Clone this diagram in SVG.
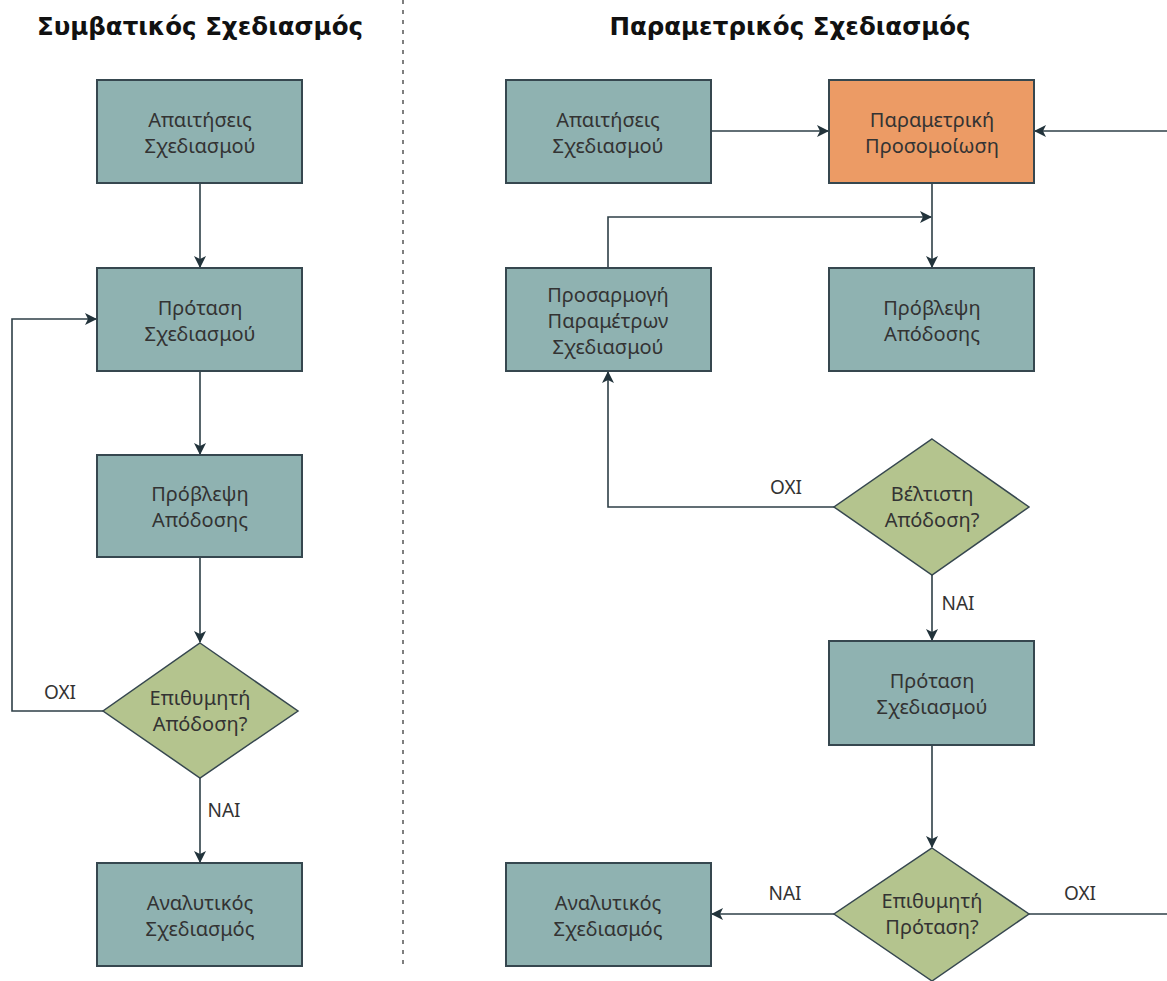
<svg xmlns="http://www.w3.org/2000/svg" width="1167" height="981" viewBox="0 0 1167 981">
  <defs>
    <marker id="arr" viewBox="0 0 12 12" refX="11" refY="6" markerWidth="12" markerHeight="12" markerUnits="userSpaceOnUse" orient="auto">
      <path d="M0,0 L12,6 L0,12 L3,6 Z" fill="#22333b"/>
    </marker>
  </defs>
  <style>
    .title { font-family: "DejaVu Sans", Verdana, sans-serif; font-weight: bold; font-size: 24.5px; fill: #111; text-anchor: middle; }
    .box { fill: #8fb2b1; stroke: #36474f; stroke-width: 2; }
    .sim { fill: #ec9b65; stroke: #36474f; stroke-width: 2; }
    .dec { fill: #b4c48e; stroke: #36474f; stroke-width: 1.5; }
    .lbl { font-family: "Noto Sans", "Open Sans", sans-serif; font-size: 20px; fill: #333; text-anchor: middle; }
    .edge { font-family: "Noto Sans", "Open Sans", sans-serif; font-size: 19px; fill: #333; text-anchor: middle; }
    .conn path { fill: none; stroke: #2e3f47; stroke-width: 1.6; }
    .sep { stroke: #555; stroke-width: 1.5; stroke-dasharray: 4 6; }
  </style>
  <rect width="1167" height="981" fill="#fff"/>

  <!-- column titles and divider -->
  <text class="title" x="200" y="35">Συμβατικός Σχεδιασμός</text>
  <text class="title" x="790" y="35">Παραμετρικός Σχεδιασμός</text>
  <line class="sep" x1="403" y1="0" x2="403" y2="968"/>

  <!-- connectors -->
  <g id="connectors" class="conn">
    <path d="M200,183 L200,267" marker-end="url(#arr)"/>
    <path d="M200,371 L200,454" marker-end="url(#arr)"/>
    <path d="M200,557 L200,642" marker-end="url(#arr)"/>
    <path d="M103,711 L12,711 L12,319 L96,319" marker-end="url(#arr)"/>
    <path d="M200,778 L200,862" marker-end="url(#arr)"/>
    <path d="M711,131 L828,131" marker-end="url(#arr)"/>
    <path d="M1167,131 L1035,131" marker-end="url(#arr)"/>
    <path d="M932,183 L932,267" marker-end="url(#arr)"/>
    <path d="M608,268 L608,217 L931,217" marker-end="url(#arr)"/>
    <path d="M834,507 L608,507 L608,372" marker-end="url(#arr)"/>
    <path d="M932,575 L932,640" marker-end="url(#arr)"/>
    <path d="M932,745 L932,847" marker-end="url(#arr)"/>
    <path d="M834,914 L712,914" marker-end="url(#arr)"/>
    <path d="M1029,914 L1167,914"/>
  </g>

  <!-- edge labels -->
  <text class="edge" x="60" y="699">ΟΧΙ</text>
  <text class="edge" x="224" y="817">ΝΑΙ</text>
  <text class="edge" x="786" y="494">ΟΧΙ</text>
  <text class="edge" x="958" y="610">ΝΑΙ</text>
  <text class="edge" x="785" y="900">ΝΑΙ</text>
  <text class="edge" x="1080" y="900">ΟΧΙ</text>

  <!-- conventional design flow -->
  <g id="c-req">
    <rect class="box" x="97" y="80" width="205" height="103"/>
    <text class="lbl" x="200" y="127">Απαιτήσεις</text>
    <text class="lbl" x="200" y="153">Σχεδιασμού</text>
  </g>
  <g id="c-prop">
    <rect class="box" x="97" y="268" width="205" height="103"/>
    <text class="lbl" x="200" y="315">Πρόταση</text>
    <text class="lbl" x="200" y="341">Σχεδιασμού</text>
  </g>
  <g id="c-pred">
    <rect class="box" x="97" y="455" width="205" height="102"/>
    <text class="lbl" x="200" y="501">Πρόβλεψη</text>
    <text class="lbl" x="200" y="527">Απόδοσης</text>
  </g>
  <g id="c-check">
    <polygon class="dec" points="200,643 298,711 200,778 103,711"/>
    <text class="lbl" x="200" y="705">Επιθυμητή</text>
    <text class="lbl" x="200" y="731">Απόδοση?</text>
  </g>
  <g id="c-detail">
    <rect class="box" x="97" y="863" width="205" height="103"/>
    <text class="lbl" x="200" y="910">Αναλυτικός</text>
    <text class="lbl" x="200" y="936">Σχεδιασμός</text>
  </g>

  <!-- parametric design flow -->
  <g id="p-req">
    <rect class="box" x="506" y="80" width="205" height="103"/>
    <text class="lbl" x="608" y="127">Απαιτήσεις</text>
    <text class="lbl" x="608" y="153">Σχεδιασμού</text>
  </g>
  <g id="p-sim">
    <rect class="sim" x="829" y="80" width="205" height="103"/>
    <text class="lbl" x="932" y="127">Παραμετρική</text>
    <text class="lbl" x="932" y="153">Προσομοίωση</text>
  </g>
  <g id="p-adjust">
    <rect class="box" x="506" y="268" width="205" height="103"/>
    <text class="lbl" x="608" y="302">Προσαρμογή</text>
    <text class="lbl" x="608" y="328">Παραμέτρων</text>
    <text class="lbl" x="608" y="354">Σχεδιασμού</text>
  </g>
  <g id="p-pred">
    <rect class="box" x="829" y="268" width="205" height="103"/>
    <text class="lbl" x="932" y="315">Πρόβλεψη</text>
    <text class="lbl" x="932" y="341">Απόδοσης</text>
  </g>
  <g id="p-best">
    <polygon class="dec" points="932,439 1029,507 932,575 834,507"/>
    <text class="lbl" x="932" y="501">Βέλτιστη</text>
    <text class="lbl" x="932" y="527">Απόδοση?</text>
  </g>
  <g id="p-prop">
    <rect class="box" x="829" y="641" width="205" height="104"/>
    <text class="lbl" x="932" y="688">Πρόταση</text>
    <text class="lbl" x="932" y="714">Σχεδιασμού</text>
  </g>
  <g id="p-check">
    <polygon class="dec" points="932,848 1029,914 932,981 834,914"/>
    <text class="lbl" x="932" y="908">Επιθυμητή</text>
    <text class="lbl" x="932" y="934">Πρόταση?</text>
  </g>
  <g id="p-detail">
    <rect class="box" x="506" y="863" width="205" height="103"/>
    <text class="lbl" x="608" y="910">Αναλυτικός</text>
    <text class="lbl" x="608" y="936">Σχεδιασμός</text>
  </g>
</svg>
